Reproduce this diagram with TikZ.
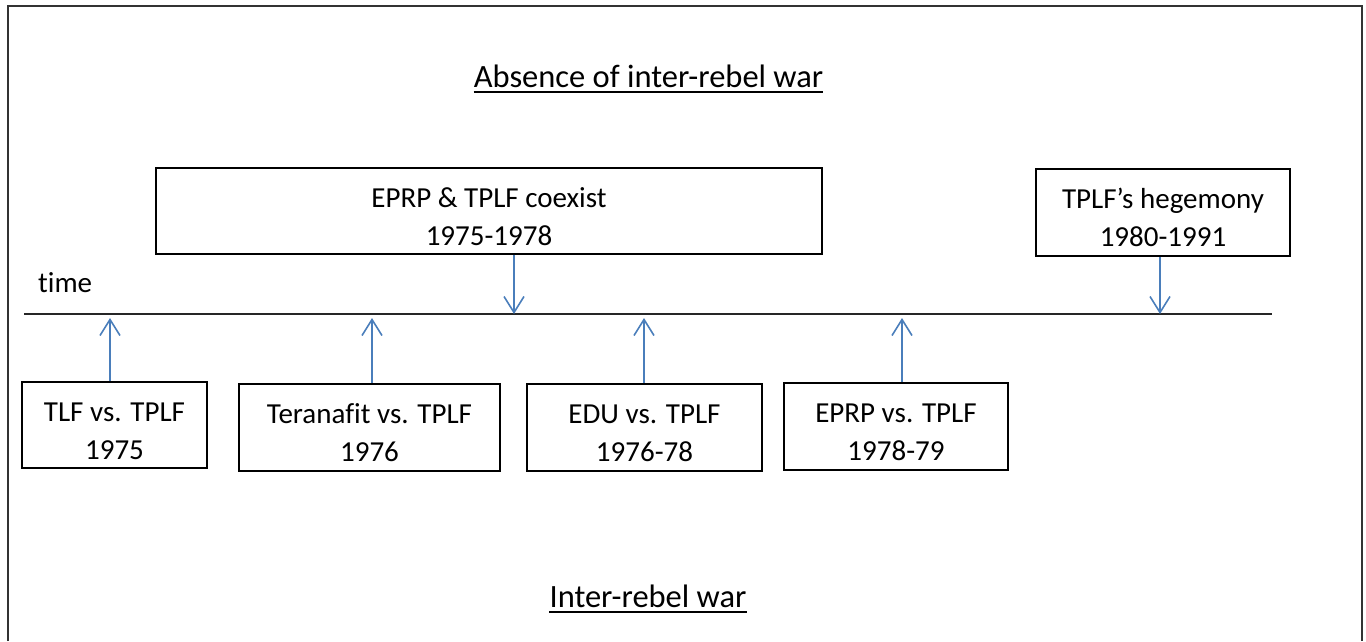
\documentclass[tikz,border=0pt]{standalone}
\usepackage{fontspec}
\setmainfont{Carlito}[Ligatures=NoCommon]
\usetikzlibrary{arrows.meta}
\definecolor{arrowblue}{RGB}{74,126,187}
\newcommand{\topstrut}{\rule{0pt}{31pt}}
\tikzset{
  box/.style={draw=black, line width=1.8pt, align=center, inner sep=0pt,
    font=\fontsize{29}{38}\selectfont},
  conn/.style={draw=arrowblue, line width=1.6pt,
    -{Straight Barb[length=16pt,width=20pt,line width=1.6pt]}},
  title/.style={font=\fontsize{32.5}{40}\selectfont, inner sep=0pt, anchor=base},
  uline/.style={line width=2.8pt},
  label/.style={font=\fontsize{29}{33}\selectfont, inner sep=0pt, anchor=base west},
}
\begin{document}
\begin{tikzpicture}[x=1pt,y=-1pt]
\useasboundingbox (0,0) rectangle (1366,641);
\draw[line width=2.5pt, black!80] (8,641) -- (8,6) -- (1362,6) -- (1362,641);

% titles
\node[title] (abs) at (648.5,87) {Absence of inter-rebel war};
\draw[uline] ([yshift=-5pt]abs.base west) -- ([yshift=-5pt]abs.base east);
\node[title] (inter) at (648,607) {Inter-rebel war};
\draw[uline] ([yshift=-5pt]inter.base west) -- ([yshift=-5pt]inter.base east);

% timeline
\coordinate (tl0) at (24,314);
\coordinate (tl1) at (1272,314);
\draw[line width=1.3pt, black!85] (tl0) -- (tl1);
\node[label] (time) at (38,292) {time};

% upper boxes
\node[box, minimum width=666pt, minimum height=86pt] (coexist) at (489,211)
  {\topstrut EPRP \& TPLF coexist\\1975-1978};
\node[box, minimum width=254pt, minimum height=87pt] (hegem) at (1163,212.5)
  {\topstrut TPLF’s hegemony\\1980-1991};

% lower boxes
\node[box, minimum width=185pt, minimum height=86pt] (tlf) at (114.5,425)
  {\topstrut TLF vs. TPLF\\1975};
\node[box, minimum width=261pt, minimum height=87pt] (teran) at (369.5,427.5)
  {\topstrut Teranafit vs. TPLF\\1976};
\node[box, minimum width=235pt, minimum height=87pt] (edu) at (644.5,427.5)
  {\topstrut EDU vs. TPLF\\1976-78};
\node[box, minimum width=224pt, minimum height=87pt] (eprp) at (896,426.5)
  {\topstrut EPRP vs. TPLF\\1978-79};

% arrow targets on the timeline
\coordinate (d1) at (514,314);
\coordinate (d2) at (1160,314);
\coordinate (u1) at (110,318);
\coordinate (u2) at (372,318);
\coordinate (u3) at (644,318);
\coordinate (u4) at (902,318);

\draw[conn] (coexist.south -| d1) -- (d1);
\draw[conn] (hegem.south -| d2) -- (d2);
\draw[conn] (tlf.north -| u1) -- (u1);
\draw[conn] (teran.north -| u2) -- (u2);
\draw[conn] (edu.north -| u3) -- (u3);
\draw[conn] (eprp.north -| u4) -- (u4);
\end{tikzpicture}
\end{document}
